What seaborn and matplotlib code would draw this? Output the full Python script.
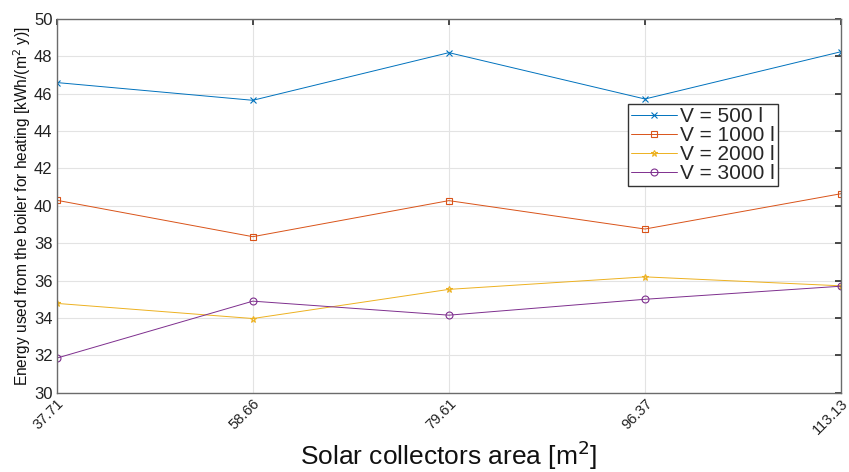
import pandas as pd
import seaborn as sns
import matplotlib.pyplot as plt

# collector areas (categorical, equally spaced on the axis)
areas = ["37.71", "58.66", "79.61", "96.37", "113.13"]

v500 = [46.6, 45.65, 48.2, 45.72, 48.25]
v1000 = [40.3, 38.35, 40.28, 38.76, 40.65]
v2000 = [34.78, 33.97, 35.53, 36.2, 35.72]
v3000 = [31.85, 34.9, 34.15, 35.0, 35.7]

labels = ["V = 500 l", "V = 1000 l", "V = 2000 l", "V = 3000 l"]
colors = ["#0072BD", "#D95319", "#EDB120", "#7E2F8E"]
markers = ["x", "s", "*", "o"]

sns.set_theme(style="whitegrid")
plt.rcParams["font.family"] = ["Liberation Sans", "DejaVu Sans"]

fig = plt.figure(figsize=(8.49, 4.72), dpi=100)
ax = fig.add_axes([0.0668, 0.168, 0.9238, 0.7917])

series = [v500, v1000, v2000, v3000]
for vals, lab, col, mk in zip(series, labels, colors, markers):
    df = pd.DataFrame({"area": areas, "energy": vals})
    sns.lineplot(data=df, x="area", y="energy", ax=ax, color=col, marker=mk,
                 markersize=5, mec=col, mfc="none", mew=0.8, lw=0.7, label=lab)

ax.set_xlim(0, len(areas) - 1)
ax.set_ylim(30, 50)
ax.set_yticks(range(30, 51, 2))
ax.grid(True, color="#e3e3e3", lw=0.8)
for s in ax.spines.values():
    s.set_color("#6b6b6b")
    s.set_linewidth(1.0)
ax.tick_params(direction="in", length=4, color="#333333", top=True, right=True,
               labelcolor="#222222", pad=3)
ax.tick_params(axis="y", labelsize=12)
ax.tick_params(axis="x", labelsize=10.5)
plt.setp(ax.get_xticklabels(), rotation=45, ha="right", rotation_mode="anchor")

ax.set_xlabel("Solar collectors area [m$^2$]", fontsize=19, labelpad=1, color="#111111")
ax.set_ylabel("Energy used from the boiler for heating [kWh/(m$^2$ y)]", fontsize=11.2,
              labelpad=1, color="#111111")

leg = ax.legend(loc="upper left", bbox_to_anchor=(0.728, 0.7725), fontsize=15,
                frameon=True, fancybox=False, framealpha=1, edgecolor="#333333",
                borderpad=0.15, labelspacing=0.0, handlelength=2.2, handletextpad=0.15,
                borderaxespad=0)
leg.get_frame().set_linewidth(1.0)

fig.savefig("out.png", dpi=100)
